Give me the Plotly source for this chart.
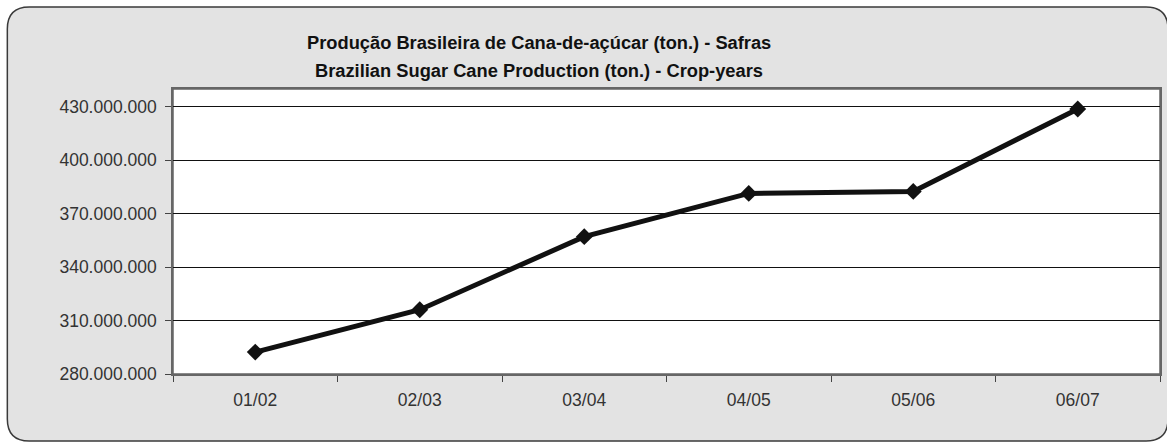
import plotly.graph_objects as go

safras = ['01/02', '02/03', '03/04', '04/05', '05/06', '06/07']
producao = [292300000, 316100000, 357100000, 381400000, 382500000, 428800000]
y_ticks = [280000000, 310000000, 340000000, 370000000, 400000000, 430000000]

W, H = 1167, 443
L, R, T, B = 173, 1162, 89, 374


def px(x, y):
    # pixel -> paper coords
    return (x - L) / (R - L), (B - y) / (B - T)


def rounded_box(x0, y0, x1, y1, r):
    pts = [
        ('M', (x0 + r, y0)), ('L', (x1 - r, y0)), ('Q', (x1, y0), (x1, y0 + r)),
        ('L', (x1, y1 - r)), ('Q', (x1, y1), (x1 - r, y1)),
        ('L', (x0 + r, y1)), ('Q', (x0, y1), (x0, y1 - r)),
        ('L', (x0, y0 + r)), ('Q', (x0, y0), (x0 + r, y0)),
    ]
    s = ''
    for p in pts:
        s += p[0] + ' ' + ' '.join('%.5f,%.5f' % px(*q) for q in p[1:]) + ' '
    return s + 'Z'


fig = go.Figure(go.Scatter(
    x=safras, y=producao, mode='lines+markers',
    line=dict(color='#111111', width=5),
    marker=dict(symbol='diamond', size=13, color='#111111'),
    cliponaxis=False,
))

fig.add_shape(type='path', xref='paper', yref='paper', layer='below',
              path=rounded_box(7, 7, 1170, 441, 22),
              fillcolor='#e3e3e3', line=dict(color='#3a3a3a', width=1.5))
fig.add_shape(type='rect', xref='paper', yref='paper', layer='below',
              x0=0, x1=1, y0=0, y1=1, fillcolor='white',
              line=dict(color='#666666', width=1.5))

font = 'Liberation Sans, Arial, sans-serif'
tx, _ = px(540, 0)
for txt, ypix in [('Produção Brasileira de Cana-de-açúcar (ton.) - Safras', 43),
                  ('Brazilian Sugar Cane Production (ton.) - Crop-years', 70)]:
    fig.add_annotation(text='<b>' + txt + '</b>', xref='paper', yref='paper',
                       x=tx, y=px(0, ypix)[1], showarrow=False,
                       xanchor='center', yanchor='middle',
                       font=dict(family=font, size=18.3, color='#111111'))

fig.update_layout(
    width=W, height=H,
    margin=dict(l=L, r=W - R, t=T, b=H - B),
    paper_bgcolor='white', plot_bgcolor='white',
    separators=',.',
    showlegend=False,
    font=dict(family=font, size=17.5, color='#333333'),
)
fig.update_xaxes(type='category', range=[-0.5, len(safras) - 0.5],
                 tickson='boundaries', ticks='outside',
                 ticklen=6, tickcolor='#444444', showgrid=False,
                 showline=True, linecolor='#666666', linewidth=1.5, mirror=True,
                 ticklabelstandoff=9,
                 tickfont=dict(size=17.5, color='#333333'))
fig.update_yaxes(range=[280000000, 440000000], tickvals=y_ticks,
                 tickformat=',d', ticks='outside', ticklen=6,
                 tickcolor='#444444', showgrid=True, gridcolor='#111111',
                 gridwidth=1, zeroline=False,
                 showline=True, linecolor='#666666', linewidth=1.5, mirror=True,
                 ticklabelstandoff=5,
                 tickfont=dict(size=17.5, color='#333333'))

fig.write_html('out.html', config={'displayModeBar': False},
               post_script="document.body.style.margin='0px';")
